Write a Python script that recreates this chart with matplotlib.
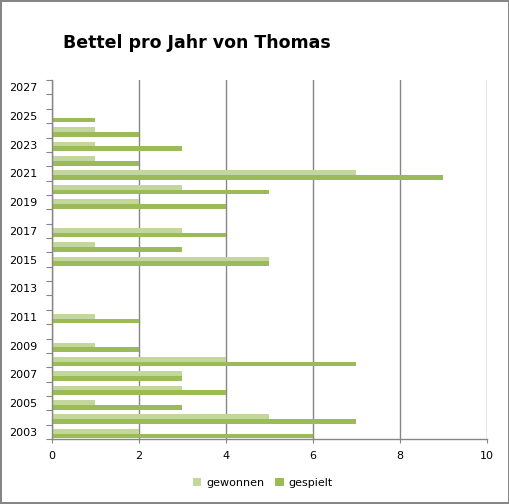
"""Bettel pro Jahr - horizontales Balkendiagramm
"""

import numpy as np
from matplotlib import pyplot

years = list(range(2003, 2028))
gewonnen = [2, 5, 1, 3, 3, 4, 1, 0, 1, 0, 0, 0, 5, 1, 3, 0, 2, 3, 7, 1, 1, 1, 0, 0, 0]
gespielt = [6, 7, 3, 4, 3, 7, 2, 0, 2, 0, 0, 0, 5, 3, 4, 0, 4, 5, 9, 2, 3, 2, 1, 0, 0]

light_green = '#C3D69B'
dark_green = '#9BBB59'
grid_color = '#868686'

fig = pyplot.figure(figsize=(5.1, 5.04), dpi=100)
fig.patch.set_edgecolor(grid_color)
fig.patch.set_linewidth(1.5)
ax = fig.add_axes([0.101, 0.129, 0.853, 0.712])

pos = np.arange(len(years))
h = 0.33
ax.barh(pos + h / 2 - 0.12, gewonnen, height=h, color=light_green, label='gewonnen')
ax.barh(pos - h / 2 - 0.12, gespielt, height=h, color=dark_green, label='gespielt')

ax.set_xlim(0, 10)
ax.set_ylim(-0.5, len(years) - 0.5)
ax.set_xticks(range(0, 11, 2))
ax.set_yticks(pos[::2])
ax.set_yticklabels([str(y) for y in years[::2]])
ax.set_yticks(np.arange(-0.5, len(years), 1), minor=True)
ax.tick_params(axis='y', which='major', length=0, labelsize=8, pad=10)
ax.tick_params(axis='y', which='minor', length=4, color=grid_color, width=0.8)
ax.tick_params(axis='x', length=3, color=grid_color, width=0.8, labelsize=8, pad=6)

ax.grid(axis='x', color=grid_color, linewidth=1)
ax.set_axisbelow(True)
for side in ('top', 'right'):
    ax.spines[side].set_visible(False)
for side in ('left', 'bottom'):
    ax.spines[side].set_color(grid_color)
    ax.spines[side].set_linewidth(1)

fig.text(0.124, 0.897, 'Bettel pro Jahr von Thomas', fontsize=12.5,
         fontweight='bold', va='bottom', ha='left')

fig.legend(loc='lower center', bbox_to_anchor=(0.515, 0.012), ncol=2,
           frameon=False, fontsize=8, handlelength=0.8, handleheight=0.8,
           columnspacing=1.0, handletextpad=0.4)

fig.savefig('out.png', dpi=100)
